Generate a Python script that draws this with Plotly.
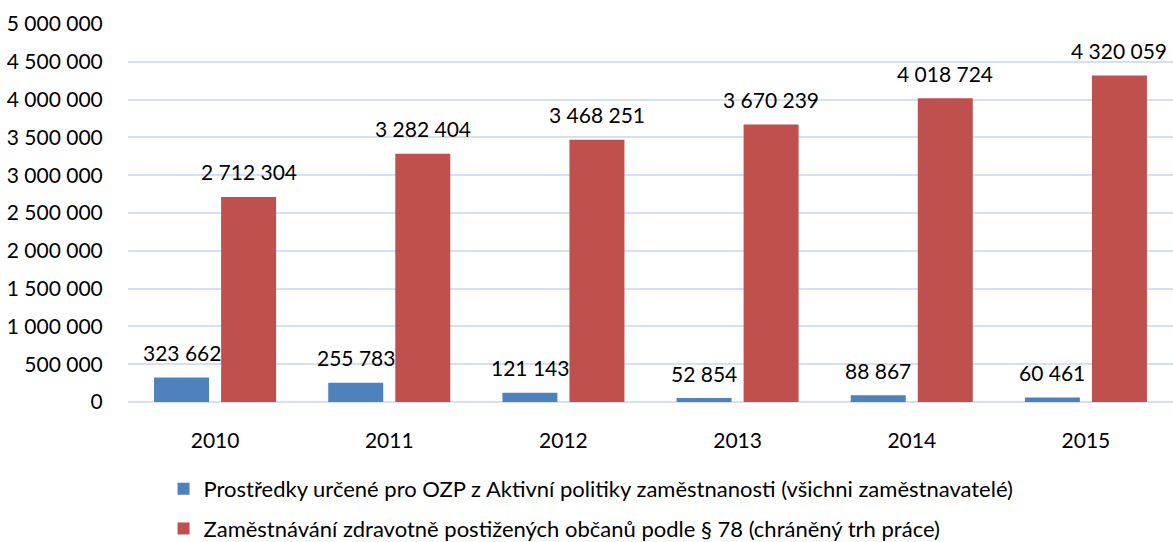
import plotly.graph_objects as go

years = ["2010", "2011", "2012", "2013", "2014", "2015"]
apz_values = [323662, 255783, 121143, 52854, 88867, 60461]
chtp_values = [2712304, 3282404, 3468251, 3670239, 4018724, 4320059]
series_names = [
    "Prostředky určené pro OZP z Aktivní politiky zaměstnanosti (všichni zaměstnavatelé)",
    "Zaměstnávání zdravotně postižených občanů podle § 78 (chráněný trh práce)",
]
series_colors = ["#4F81BD", "#C0504D"]
y_ticks = list(range(0, 5000001, 500000))

FONT = "Lato"
FS = 21


def fmt(v):
    return f"{v:,}".replace(",", " ")


fig = go.Figure()
for i, (name, vals, col) in enumerate(zip(series_names, [apz_values, chtp_values], series_colors)):
    fig.add_trace(go.Bar(
        x=years, y=vals, name=name, marker=dict(color=col, line=dict(width=0)),
        legendgroup=f"g{i}",
    ))

annotations = []
slot_shift = 33.5
for vals, sh in [(apz_values, -slot_shift), (chtp_values, slot_shift)]:
    for idx, v in enumerate(vals):
        annotations.append(dict(
            x=idx, y=v, xref="x", yref="y", text=fmt(v), showarrow=False,
            xshift=sh, yshift=25, yanchor="middle",
            font=dict(family=FONT, size=FS, color="#000000"),
        ))

fig.update_layout(
    width=1173, height=542,
    margin=dict(l=128, r=0, t=24, b=140),
    paper_bgcolor="white", plot_bgcolor="white",
    barmode="group", bargap=0.23, bargroupgap=0.18,
    separators=", ",
    font=dict(family=FONT, size=FS, color="#000000"),
    xaxis=dict(
        type="category", range=[-0.5, len(years) - 0.5],
        showgrid=False, showline=False, zeroline=False,
        ticks="outside", ticklen=20, tickcolor="rgba(0,0,0,0)",
        tickfont=dict(family=FONT, size=FS, color="#000000"),
    ),
    yaxis=dict(
        range=[0, 5000000], tickvals=y_ticks,
        ticktext=[fmt(t) for t in y_ticks],
        showgrid=True, gridcolor="#D6E0F0", gridwidth=2,
        zeroline=True, zerolinecolor="#D6E0F0", zerolinewidth=2,
        showline=False,
        ticks="outside", ticklen=20, tickcolor="rgba(0,0,0,0)",
        tickfont=dict(family=FONT, size=FS, color="#000000"),
    ),
    legend=dict(
        orientation="v", x=0.034, y=0.1365, xanchor="left", yanchor="top",
        yref="container",
        font=dict(family=FONT, size=22, color="#000000"),
        tracegroupgap=8, bgcolor="rgba(0,0,0,0)",
    ),
    annotations=annotations,
    showlegend=True,
)

fig.write_html(
    "out.html",
    config={"displayModeBar": False},
    post_script="document.body.style.margin='0';",
)
